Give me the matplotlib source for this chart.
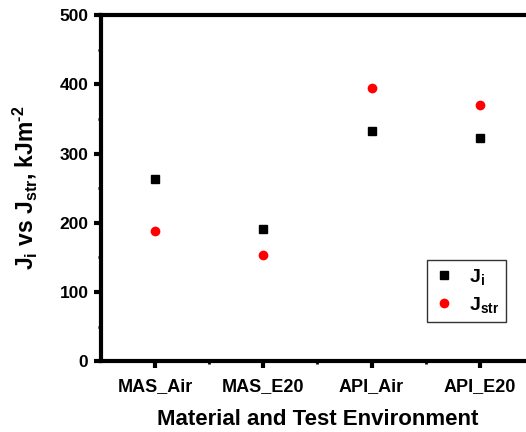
import matplotlib
matplotlib.use("Agg")
import matplotlib.pyplot as plt
from matplotlib.ticker import MultipleLocator, FixedLocator

categories = ["MAS_Air", "MAS_E20", "API_Air", "API_E20"]
j_i = [263, 191, 333, 322]
j_str = [188, 154, 395, 370]

plt.rcParams["font.family"] = "Liberation Sans"
plt.rcParams["font.weight"] = "bold"
plt.rcParams["mathtext.fontset"] = "custom"
plt.rcParams["mathtext.rm"] = "Liberation Sans:bold"
plt.rcParams["mathtext.it"] = "Liberation Sans:bold"
plt.rcParams["mathtext.bf"] = "Liberation Sans:bold"
plt.rcParams["mathtext.default"] = "rm"

fig = plt.figure(figsize=(5.26, 4.32), dpi=100)
ax = fig.add_axes([0.192, 0.164, 0.823, 0.801])

x = list(range(1, len(categories) + 1))
ax.plot(x, j_i, "s", color="black", markersize=6, label="J$_{i}$")
ax.plot(x, j_str, "o", color="red", markersize=7, markeredgewidth=0, label="J$_{str}$")

ax.set_xlim(0.5, 4.5)
ax.set_ylim(0, 500)
ax.set_xticks(x)
ax.set_xticklabels(categories, fontsize=13, fontweight="bold")
ax.xaxis.set_minor_locator(FixedLocator([1.5, 2.5, 3.5]))
ax.yaxis.set_major_locator(MultipleLocator(100))
ax.yaxis.set_minor_locator(MultipleLocator(50))
for lab in ax.get_yticklabels():
    lab.set_fontsize(12.5)
    lab.set_fontweight("bold")

for side in ["left", "bottom", "top"]:
    ax.spines[side].set_linewidth(3)
ax.spines["right"].set_visible(False)
ax.tick_params(which="major", direction="out", length=5, width=3)
ax.tick_params(axis="x", which="major", pad=7)
ax.tick_params(axis="y", which="major", pad=4)
ax.tick_params(which="minor", direction="out", length=2.5, width=2)

ax.set_xlabel("Material and Test Environment", fontsize=16, fontweight="bold", labelpad=10)
ax.set_ylabel("J$_{i}$ vs J$_{str}$, kJm$^{\\text{-}2}$", fontsize=16.5, fontweight="bold", labelpad=15)

leg = ax.legend(loc="center", bbox_to_anchor=(0.845, 0.2025),
                fontsize=14, frameon=True, fancybox=False, handlelength=1,
                handletextpad=0.8, borderpad=0.35, labelspacing=0.4)
leg.get_frame().set_edgecolor("black")
leg.get_frame().set_linewidth(1)

fig.savefig("out.png", dpi=100)
